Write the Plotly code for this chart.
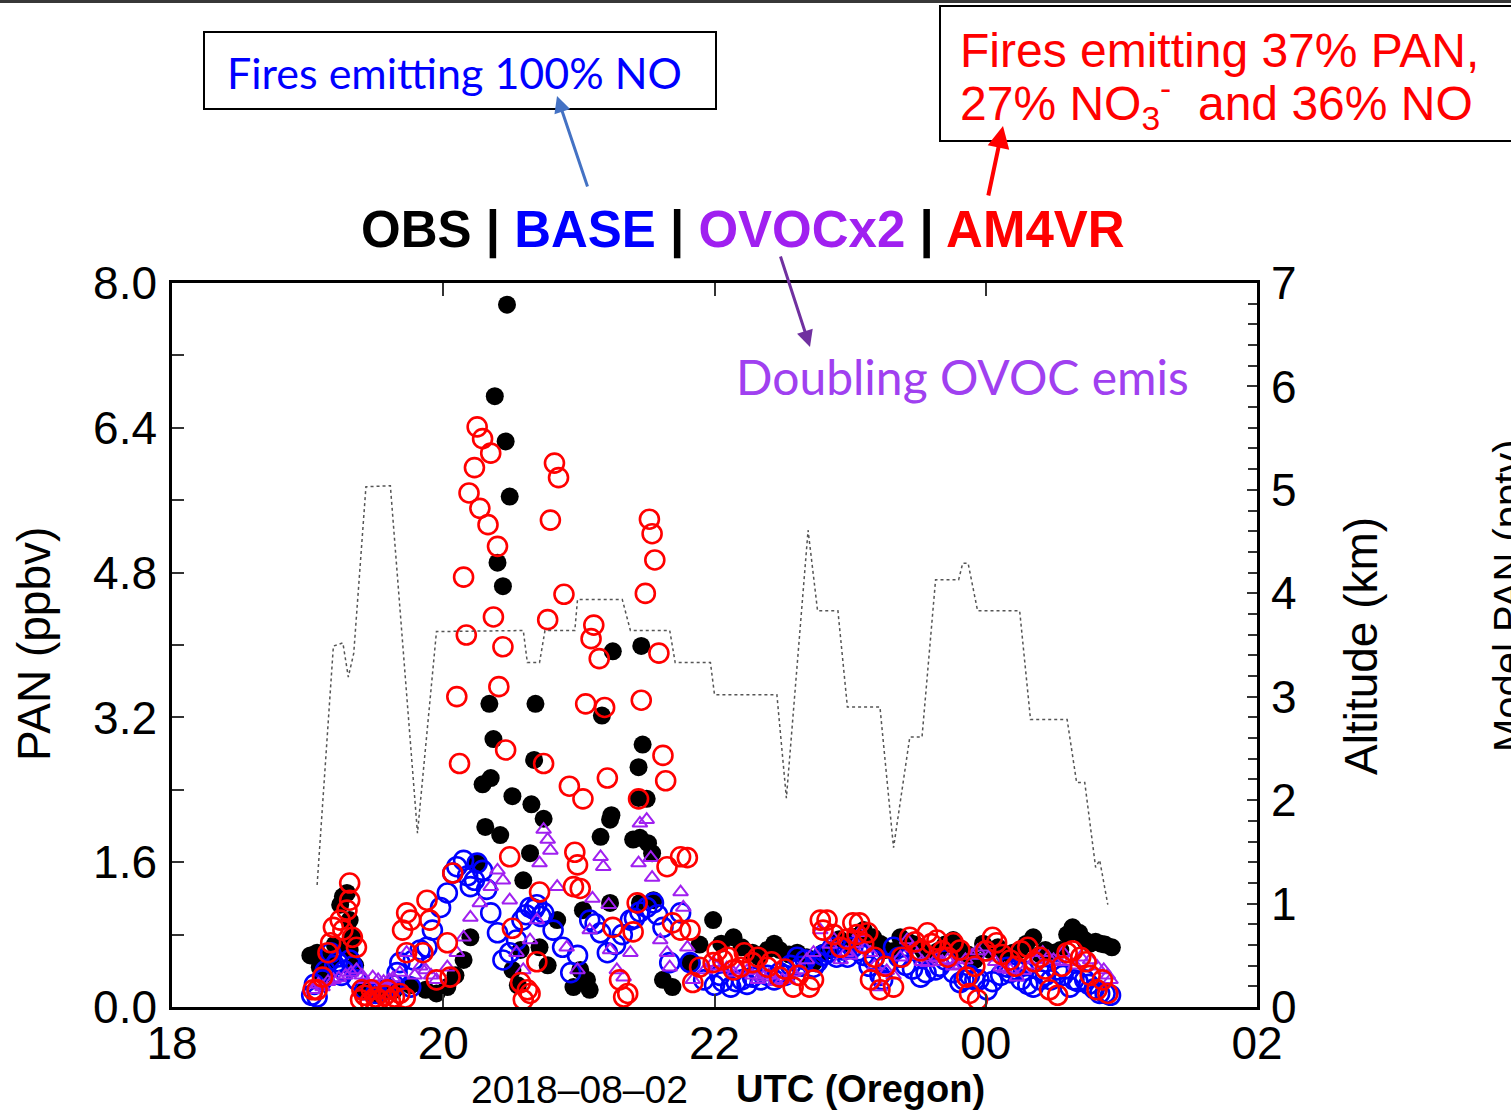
import plotly.graph_objects as go

# ---------------- data (hours UTC since 2018-08-02 00:00; >24 = next day) ----------------
obs_t = [19.02, 19.07, 19.09, 19.11, 19.17, 19.20, 19.24, 19.26, 19.29, 19.31, 19.33, 19.31, 19.35,
         19.42, 19.53, 19.64, 19.76, 19.87, 19.95, 20.03,
         20.09, 20.15, 20.20, 20.25, 20.31, 20.29, 20.34, 20.35, 20.37, 20.40, 20.44, 20.38, 20.46, 20.47, 20.49, 20.42, 20.51, 20.51, 20.55,
         20.57, 20.59, 20.64, 20.65, 20.67, 20.68, 20.74, 20.71, 20.77, 20.84, 20.96, 21.01, 21.03, 21.06, 21.08,
         21.16, 21.17, 21.23, 21.24, 21.23, 21.25, 21.40, 21.44, 21.44, 21.46, 21.47, 21.50, 21.45, 21.51, 21.54, 21.55, 21.45, 21.62, 21.69, 21.82, 21.89, 21.99,
         22.14, 22.28, 22.39, 22.48, 22.61, 22.73, 22.85, 23.00, 23.10, 23.17, 23.26, 23.37, 23.48, 23.59, 23.70, 23.81, 23.92, 24.03, 24.14, 24.25, 24.35, 24.44, 24.55, 24.64, 24.73, 24.81, 24.88, 24.93,
         22.05, 22.20, 22.33, 22.44, 22.55, 22.68, 22.80, 22.92, 23.05, 23.22, 23.32, 23.43, 23.54, 23.65, 23.76, 23.87, 23.98, 24.09, 24.20, 24.30, 24.40, 24.50, 24.60, 24.69, 24.77, 24.85]
obs_pan = [0.57, 0.60, 0.44, 0.35, 0.52, 0.69, 1.13, 1.22, 1.26, 0.96, 0.77, 0.63, 0.46,
           0.19, 0.13, 0.19, 0.24, 0.19, 0.15, 0.22,
           0.35, 0.52, 0.77, 1.59, 1.99, 2.46, 3.35, 2.53, 2.96, 4.91, 4.65, 6.75, 6.25, 7.76, 5.64, 1.90, 2.33, 0.41, 0.24,
           0.63, 1.40, 1.70, 2.24, 2.73, 3.35, 2.08, 0.66, 0.46, 0.96, 0.22, 0.41, 1.07, 0.30, 0.19,
           1.88, 3.22, 2.07, 2.12, 1.15, 3.93, 1.85, 2.31, 2.65, 3.99, 2.90, 2.30, 1.87, 1.81, 1.70, 1.18, 1.15, 0.30, 0.22, 0.49, 0.69, 0.96,
           0.77, 0.60, 0.63, 0.63, 0.60, 0.49, 0.63, 0.69, 0.85, 0.77, 0.63, 0.77, 0.69, 0.57, 0.69, 0.63, 0.52, 0.63, 0.57, 0.63, 0.77, 0.63, 0.63, 0.88, 0.74, 0.72, 0.69, 0.66,
           0.70, 0.66, 0.55, 0.70, 0.58, 0.55, 0.60, 0.75, 0.78, 0.70, 0.62, 0.72, 0.62, 0.62, 0.74, 0.58, 0.70, 0.66, 0.60, 0.70, 0.58, 0.60, 0.80, 0.82, 0.70, 0.70]

base_t = [19.03, 19.07, 19.11, 19.17, 19.20, 19.25, 19.31, 19.36, 19.42, 19.50, 19.57, 19.64, 19.66, 19.68, 19.76, 19.78, 19.83, 19.88, 19.92, 19.98,
          20.03, 20.07, 20.15, 20.20, 20.25, 20.29, 20.35, 20.40, 20.44, 20.49, 20.54, 20.58, 20.64, 20.69, 20.74, 20.81, 20.88, 20.94, 20.99,
          21.08, 21.16, 21.21, 21.27, 21.32, 21.38, 21.45, 21.50, 21.55, 21.62, 21.67, 21.75, 21.82, 21.92,
          22.00, 22.12, 22.20, 22.28, 22.39, 22.48, 22.56, 22.61, 22.67, 22.73, 22.80, 22.87, 22.95, 23.02, 23.10, 23.17, 23.22, 23.32, 23.41, 23.52, 23.63, 23.70,
          23.81, 23.88, 24.01, 24.11, 24.22, 24.35, 24.44, 24.53, 24.62, 24.73, 24.84, 24.92,
          20.10, 20.18, 20.23, 20.32, 20.61, 20.67, 20.72, 21.12, 21.41, 21.58, 22.06, 22.34, 22.90, 23.27, 23.46, 23.76, 23.95, 24.16, 24.28, 24.48, 24.68, 24.80,
          22.04, 22.16, 22.24, 22.44, 22.52, 22.64, 22.76, 22.84, 22.98, 23.06, 23.14, 23.24, 23.36, 23.56, 23.66, 23.84, 23.92, 24.05, 24.18, 24.26, 24.31, 24.40, 24.57, 24.65, 24.76, 24.88,
          19.05, 19.13, 19.22, 19.27, 19.33]
base_pan = [0.13, 0.11, 0.30, 0.60, 0.46, 0.35, 0.52, 0.30, 0.19, 0.15, 0.19, 0.24, 0.38, 0.49, 0.22, 0.52, 0.63, 0.66, 0.85, 1.10,
            1.26, 1.48, 1.62, 1.33, 1.59, 1.51, 1.04, 0.82, 0.52, 0.60, 0.74, 0.96, 1.10, 1.13, 1.04, 0.85, 0.66, 0.38, 0.57,
            0.96, 0.82, 0.60, 0.69, 0.80, 0.96, 1.05, 1.10, 1.15, 0.88, 0.49, 1.04, 0.49, 0.30,
            0.24, 0.22, 0.30, 0.33, 0.35, 0.38, 0.46, 0.55, 0.52, 0.44, 0.57, 0.66, 0.63, 0.66, 0.57, 0.52, 0.35, 0.66, 0.46, 0.33, 0.41, 0.52,
            0.27, 0.35, 0.19, 0.35, 0.41, 0.22, 0.35, 0.41, 0.22, 0.30, 0.15, 0.13,
            1.55, 1.45, 1.40, 1.30, 1.02, 1.08, 1.00, 0.92, 0.98, 1.02, 0.28, 0.30, 0.55, 0.48, 0.42, 0.38, 0.30, 0.44, 0.40, 0.30, 0.28, 0.20,
            0.35, 0.28, 0.25, 0.30, 0.35, 0.45, 0.50, 0.60, 0.55, 0.62, 0.45, 0.30, 0.55, 0.38, 0.45, 0.30, 0.30, 0.28, 0.38, 0.30, 0.25, 0.30, 0.35, 0.30, 0.25, 0.15,
            0.25, 0.40, 0.50, 0.40, 0.45]

ovoc_t = [19.04, 19.11, 19.19, 19.28, 19.36, 19.42, 19.48, 19.56, 19.63, 19.73, 19.79, 19.87, 19.95,
          20.03, 20.10, 20.15, 20.20, 20.27, 20.35, 20.40, 20.44, 20.49, 20.54, 20.59, 20.64, 20.69, 20.71, 20.74, 20.77, 20.79, 20.84, 20.91, 20.99,
          21.08, 21.10, 21.16, 21.18, 21.22, 21.23, 21.28, 21.33, 21.38, 21.44, 21.45, 21.50, 21.53, 21.54, 21.60, 21.65, 21.67, 21.75, 21.77, 21.80, 21.84, 21.93, 21.99,
          22.09, 22.19, 22.28, 22.36, 22.45, 22.54, 22.63, 22.73, 22.78, 22.85, 22.93, 23.00, 23.07, 23.15, 23.22, 23.32, 23.42, 23.49, 23.57, 23.64, 23.72,
          23.81, 23.90, 23.98, 24.11, 24.18, 24.23, 24.33, 24.42, 24.50, 24.57, 24.66, 24.77, 24.87, 24.92,
          22.02, 22.14, 22.24, 22.32, 22.40, 22.50, 22.58, 22.68, 22.88, 22.97, 23.04, 23.11, 23.18, 23.27, 23.37, 23.46, 23.53, 23.60, 23.68, 23.76,
          23.85, 23.94, 24.02, 24.07, 24.14, 24.28, 24.37, 24.46, 24.54, 24.62, 24.70, 24.82, 24.90,
          19.08, 19.15, 19.23, 19.32, 19.40, 19.52, 19.60, 19.68, 19.83, 19.91]
ovoc_pan = [0.19, 0.22, 0.30, 0.35, 0.41, 0.30, 0.33, 0.28, 0.32, 0.60, 0.35, 0.41, 0.30,
            0.44, 0.60, 0.77, 0.99, 1.15, 1.33, 1.51, 1.40, 1.18, 0.60, 0.41, 0.74, 0.96, 1.59, 1.96, 1.85, 1.73, 1.33, 0.66, 0.41,
            0.85, 1.20, 1.66, 1.55, 1.13, 0.63, 0.41, 0.33, 0.60, 1.59, 2.03, 2.07, 1.65, 1.43, 0.74, 0.60, 0.44, 1.27, 1.10, 0.66, 0.30, 0.41, 0.49,
            0.43, 0.41, 0.35, 0.33, 0.28, 0.30, 0.41, 0.60, 0.85, 0.69, 0.52, 0.57, 0.82, 0.60, 0.22, 0.35, 0.74, 0.57, 0.49, 0.54, 0.52,
            0.46, 0.57, 0.66, 0.44, 0.41, 0.33, 0.46, 0.60, 0.52, 0.60, 0.46, 0.52, 0.41, 0.30,
            0.45, 0.38, 0.40, 0.30, 0.35, 0.30, 0.38, 0.52, 0.75, 0.60, 0.70, 0.65, 0.45, 0.40, 0.55, 0.65, 0.50, 0.55, 0.50, 0.45,
            0.52, 0.62, 0.55, 0.50, 0.42, 0.40, 0.52, 0.55, 0.50, 0.50, 0.55, 0.45, 0.35,
            0.25, 0.28, 0.32, 0.38, 0.35, 0.30, 0.30, 0.38, 0.45, 0.35]

am4_t = [19.04, 19.07, 19.11, 19.15, 19.17, 19.19, 19.24, 19.26, 19.29, 19.31, 19.31, 19.33, 19.36,
         19.39, 19.42, 19.46, 19.50, 19.53, 19.57, 19.61, 19.64, 19.68, 19.72, 19.40, 19.47, 19.59,
         19.70, 19.73, 19.76, 19.88, 19.90, 19.73, 19.85, 20.03, 20.05, 19.95, 20.07,
         20.15, 20.17, 20.10, 20.12, 20.25, 20.29, 20.35, 20.23, 20.19, 20.27, 20.33, 20.40, 20.37, 20.44, 20.41, 20.46,
         20.49, 20.51, 20.57, 20.62, 20.59, 20.64, 20.69, 20.71, 20.74, 20.77, 20.79, 20.82, 20.85, 20.89, 20.93, 20.97, 20.99, 20.96,
         21.01, 21.03, 21.05, 21.09, 21.11, 21.15, 21.19, 21.21, 21.25, 21.30, 21.33, 21.36, 21.40, 21.43, 21.44, 21.46, 21.49, 21.52,
         21.54, 21.56, 21.59, 21.62, 21.64, 21.65, 21.75, 21.80, 21.69, 21.75, 21.82, 21.84, 21.89, 21.99,
         22.06, 22.14, 22.19, 22.28, 22.39, 22.48, 22.58, 22.70, 22.73, 22.78, 22.83, 22.93, 23.02, 23.07, 23.13, 23.15, 23.22, 23.32,
         23.44, 23.57, 23.64, 23.76, 23.81, 23.86, 23.88, 23.94, 24.05, 24.08, 24.18, 24.31, 24.40, 24.47, 24.53, 24.60, 24.70, 24.77, 24.82, 24.90,
         22.02, 22.10, 22.22, 22.32, 22.42, 22.52, 22.62, 22.80, 22.88, 22.98, 23.05, 23.10, 23.18, 23.26, 23.38, 23.48, 23.52, 23.60, 23.68, 23.72,
         23.92, 24.00, 24.12, 24.22, 24.26, 24.36, 24.44, 24.56, 24.64, 24.74, 24.86]
am4_pan = [0.19, 0.19, 0.33, 0.60, 0.71, 0.88, 0.96, 0.85, 1.07, 1.18, 1.37, 0.77, 0.66,
           0.08, 0.13, 0.06, 0.11, 0.08, 0.13, 0.07, 0.11, 0.15, 0.10, 0.19, 0.19, 0.19,
           0.85, 1.04, 0.96, 1.18, 0.96, 0.60, 0.60, 0.71, 0.33, 0.30, 1.48,
           4.75, 4.11, 3.43, 2.69, 6.41, 6.28, 6.12, 5.96, 5.68, 5.51, 5.33, 5.09, 4.31, 3.98, 3.54, 2.84,
           1.66, 0.87, 0.27, 0.19, 0.08, 0.15, 0.50, 1.27, 2.69, 4.28, 5.38, 6.01, 5.85, 4.56, 2.44, 1.71, 1.57, 1.33,
           1.31, 2.30, 3.35, 4.07, 4.22, 3.85, 3.31, 2.53, 0.88, 0.30, 0.11, 0.15, 0.83, 1.15, 2.30, 3.39, 4.57, 5.39,
           5.23, 4.94, 3.91, 2.78, 2.50, 1.55, 1.66, 1.65, 0.93, 0.85, 0.85, 0.27, 0.44, 0.49,
           0.52, 0.41, 0.44, 0.49, 0.44, 0.33, 0.22, 0.22, 0.30, 0.96, 0.96, 0.66, 0.93, 0.93, 0.82, 0.30, 0.19, 0.22,
           0.77, 0.82, 0.74, 0.71, 0.63, 0.33, 0.15, 0.08, 0.77, 0.71, 0.52, 0.66, 0.55, 0.19, 0.13, 0.60, 0.55, 0.35, 0.19, 0.15,
           0.62, 0.55, 0.60, 0.55, 0.50, 0.42, 0.35, 0.85, 0.80, 0.75, 0.80, 0.70, 0.55, 0.45, 0.55, 0.72, 0.62, 0.70, 0.62, 0.55,
           0.45, 0.62, 0.58, 0.45, 0.62, 0.50, 0.42, 0.45, 0.62, 0.50, 0.30]

alt_t = [19.07, 19.19, 19.26, 19.30, 19.34, 19.43, 19.61, 19.81, 19.95, 20.59, 20.62, 20.71, 20.75, 20.97, 20.99,
         21.32, 21.38, 21.67, 21.71, 21.97, 22.00, 22.46, 22.53, 22.69, 22.76, 22.91, 22.98, 23.22, 23.32, 23.44,
         23.53, 23.63, 23.80, 23.83, 23.87, 23.94, 24.25, 24.33, 24.60, 24.67, 24.73, 24.81, 24.84, 24.90]
alt_km = [1.18, 3.49, 3.52, 3.19, 3.42, 5.03, 5.04, 1.68, 3.63, 3.64, 3.33, 3.33, 3.64, 3.64, 3.94,
          3.94, 3.64, 3.64, 3.33, 3.33, 3.02, 3.02, 2.02, 4.61, 3.83, 3.83, 2.90, 2.90, 1.54, 2.61,
          2.61, 4.13, 4.13, 4.29, 4.29, 3.83, 3.83, 2.78, 2.78, 2.17, 2.17, 1.35, 1.42, 0.99]

x_tickvals = [18, 20, 22, 24, 26]
x_ticktext = ["18", "20", "22", "00", "02"]

# ---------------- layout geometry ----------------
W, H = 1511, 1110
L, R, T, B = 172, 1257, 283, 1007
def px(x):
    return (x - L) / (R - L)
def py(y):
    return (B - y) / (B - T)

BLUE = "#0000FF"
PURP = "#A020F0"
RED = "#FF0000"
FONT = "Liberation Sans"

fig = go.Figure()
fig.add_trace(go.Scatter(x=alt_t, y=alt_km, yaxis="y2", mode="lines",
                         line=dict(color="#555555", width=1.5, dash="dot"), hoverinfo="skip"))
fig.add_trace(go.Scatter(x=obs_t, y=obs_pan, mode="markers",
                         marker=dict(symbol="circle", size=18, color="black", line=dict(width=0))))
fig.add_trace(go.Scatter(x=base_t, y=base_pan, mode="markers",
                         marker=dict(symbol="circle-open", size=19, color=BLUE, line=dict(width=2.6, color=BLUE))))
fig.add_trace(go.Scatter(x=ovoc_t, y=ovoc_pan, mode="markers",
                         marker=dict(symbol="triangle-up-open", size=13, color=PURP, line=dict(width=2, color=PURP))))
fig.add_trace(go.Scatter(x=am4_t, y=am4_pan, mode="markers",
                         marker=dict(symbol="circle-open", size=19, color=RED, line=dict(width=2.6, color=RED))))

fig.update_layout(
    width=W, height=H,
    margin=dict(l=L, r=W - R, t=T, b=H - B, pad=0),
    paper_bgcolor="white", plot_bgcolor="white",
    showlegend=False,
    font=dict(family=FONT, color="black"),
    xaxis=dict(range=[18, 26], tickvals=x_tickvals, ticktext=x_ticktext,
               ticks="inside", ticklen=13, tickwidth=1.5, tickcolor="#333",
               showline=True, linewidth=2.5, linecolor="black", mirror="ticks",
               showgrid=False, zeroline=False, tickfont=dict(size=46, family=FONT),
               ticklabelstandoff=-6),
    yaxis=dict(range=[0, 8], tick0=0, dtick=1.6, tickformat=".1f",
               ticks="inside", ticklen=12, tickwidth=1.5, tickcolor="#333",
               minor=dict(dtick=0.8, ticks="inside", ticklen=12, tickwidth=1.5, tickcolor="#333"),
               showline=True, linewidth=2.5, linecolor="black", mirror=True,
               showgrid=False, zeroline=False, tickfont=dict(size=46, family=FONT),
               ticklabelstandoff=3),
    yaxis2=dict(range=[0, 7], dtick=1, overlaying="y", side="right",
                ticks="inside", ticklen=10, tickwidth=1.5, tickcolor="#333",
                minor=dict(dtick=0.2, ticks="inside", ticklen=9, tickwidth=1.5, tickcolor="#333"),
                showline=True, linewidth=2.5, linecolor="black",
                showgrid=False, zeroline=False, tickfont=dict(size=46, family=FONT),
                ticklabelstandoff=2),
)

ann = []
def text(x, y, s, size, color="black", family=FONT, xanchor="center", angle=0):
    ann.append(dict(x=px(x), y=py(y), xref="paper", yref="paper", text=s, showarrow=False,
                    xanchor=xanchor, yanchor="middle", textangle=angle,
                    font=dict(size=size, color=color, family=family)))

title = ("<b>OBS | <span style='color:%s'>BASE</span> | <span style='color:%s'>OVOCx2</span>"
         " | <span style='color:%s'>AM4VR</span></b>") % (BLUE, PURP, RED)
text(743, 230, title, 51)
text(225, 72, "Fires emitting 100% NO", 43, BLUE, "Lato", "left")
text(958, 50, "Fires emitting 37% PAN,", 48, RED, FONT, "left")
text(958, 104, "27% NO<sub>3</sub><sup>-</sup>  and 36% NO", 48, RED, FONT, "left")
text(734, 377, "Doubling OVOC emis", 48, "#A040F0", "Lato", "left")
text(579, 1089, "2018–08–02", 39)
text(860, 1089, "<b>UTC (Oregon)</b>", 38)
text(34, 644, "PAN (ppbv)", 46, angle=-90)
text(1361, 646, "Altitude (km)", 46, angle=-90)
text(1508, 596, "Model PAN (pptv)", 40, angle=-90)

def arrow(hx, hy, tx, ty, color, width):
    ann.append(dict(x=px(hx), y=py(hy), xref="paper", yref="paper", text="",
                    showarrow=True, ax=tx - hx, ay=ty - hy, axref="pixel", ayref="pixel",
                    arrowhead=2, arrowsize=1.1, arrowwidth=width, arrowcolor=color))

arrow(557, 96, 588, 188, "#4472C4", 3)
arrow(1003, 126, 988, 197, RED, 4)
arrow(810, 347, 780, 255, "#7030A0", 3)
fig.update_layout(annotations=ann)

shapes = [
    dict(type="rect", xref="paper", yref="paper", x0=px(0), x1=px(W), y0=py(3), y1=py(0),
         fillcolor="#383838", line=dict(width=0)),
    dict(type="rect", xref="paper", yref="paper", x0=px(204), x1=px(716), y0=py(109), y1=py(32),
         line=dict(color="black", width=2), fillcolor="rgba(0,0,0,0)"),
    dict(type="rect", xref="paper", yref="paper", x0=px(940), x1=px(1530), y0=py(141), y1=py(6),
         line=dict(color="black", width=2), fillcolor="rgba(0,0,0,0)"),
]
fig.update_layout(shapes=shapes)

fig.write_html("out.html")
